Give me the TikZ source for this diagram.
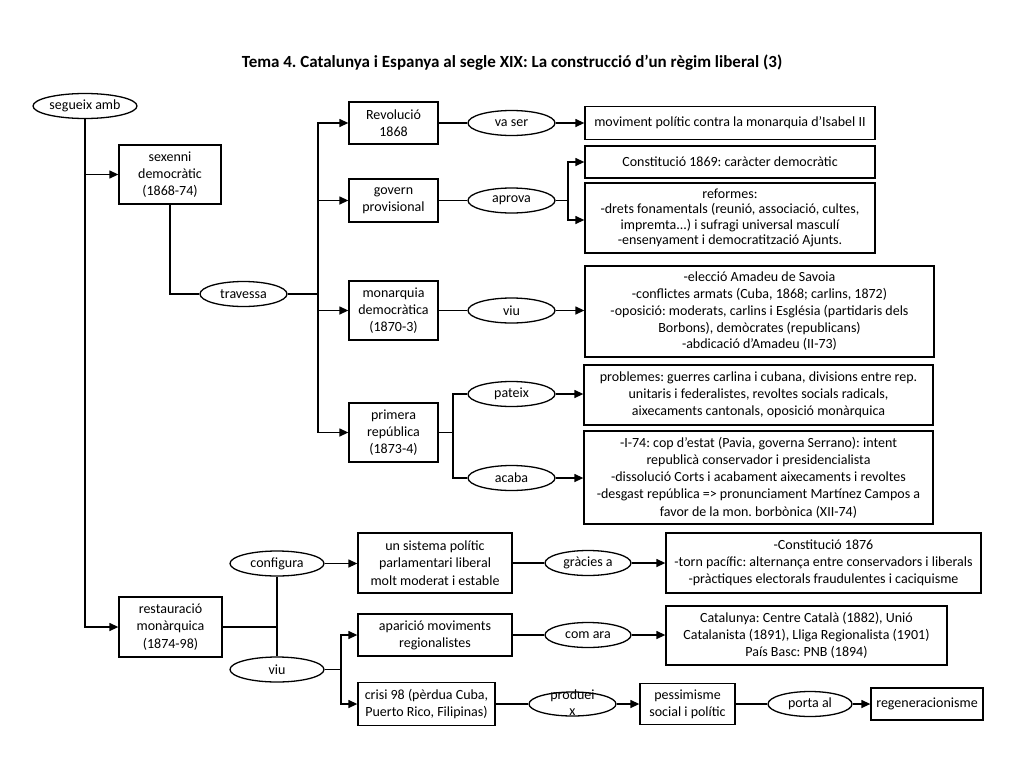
\documentclass[tikz,border=0pt]{standalone}
\usepackage{fontspec}
\setmainfont{Carlito}
\usetikzlibrary{arrows.meta,shapes.geometric}
\begin{document}
\frenchspacing
\begin{tikzpicture}[x=1pt,y=-1pt,
  every node/.style={font=\fontsize{14}{17.2}\selectfont, inner sep=0pt, align=center},
  box/.style={draw, line width=1.3pt, rectangle},
  oval/.style={draw, line width=1.3pt, ellipse, minimum height=25pt, inner sep=0pt},
  conn/.style={line width=1.3pt},
  arr/.style={line width=1.3pt, -{Triangle[length=9pt,width=8pt]}}
]
\useasboundingbox (0,0) rectangle (1024,768);
\node[font=\fontsize{17}{20}\selectfont\bfseries] (title) at (512,63) {Tema 4. Catalunya i Espanya al segle XIX: La construcció d’un règim liberal (3)};

% left column
\node[oval, minimum width=104pt] (segueix) at (85,106) {segueix amb};
\node[box, minimum width=102pt, minimum height=59pt] (sexenni) at (170,174.5) {sexenni\\democràtic\\(1868-74)};
\node[oval, minimum width=87pt] (travessa) at (243.5,294) {travessa};
\node[box, minimum width=103pt, minimum height=60pt] (restauracio) at (170.5,627) {restauració\\monàrquica\\(1874-98)};

% sexenni branch
\node[box, minimum width=89pt, minimum height=42pt] (rev) at (393.5,123) {Revolució\\1868};
\node[box, minimum width=89pt, minimum height=43pt] (govern) at (393.5,200.5) {govern\\provisional};
\node[box, minimum width=89pt, minimum height=59pt] (monarquia) at (393.5,310.5) {monarquia\\democràtica\\(1870-3)};
\node[box, minimum width=89pt, minimum height=59pt] (primera) at (393.5,432.5) {primera\\república\\(1873-4)};

\node[oval, minimum width=87pt] (vaser) at (511.5,123) {va ser};
\node[oval, minimum width=87pt] (aprova) at (511.5,200.5) {aprova};
\node[oval, minimum width=87pt] (viuA) at (511.5,310.5) {viu};
\node[oval, minimum width=87pt] (pateix) at (511.5,394) {pateix};
\node[oval, minimum width=87pt] (acaba) at (511.5,478) {acaba};

\node[box, minimum width=290pt, minimum height=33pt] (moviment) at (730,123) {moviment polític contra la monarquia d’Isabel II};
\node[box, minimum width=290pt, minimum height=32pt] (const69) at (730,162) {Constitució 1869: caràcter democràtic};
\node[box, minimum width=290pt, minimum height=70pt, font=\fontsize{14}{15.5}\selectfont] (reformes) at (730,218) {reformes:\\-drets fonamentals (reunió, associació, cultes,\\impremta...) i sufragi universal masculí\\-ensenyament i democratització Ajunts.};
\node[box, minimum width=349pt, minimum height=91pt, font=\fontsize{14}{16.8}\selectfont] (amadeu) at (759.5,311.5) {-elecció Amadeu de Savoia\\-conflictes armats (Cuba, 1868; carlins, 1872)\\-oposició: moderats, carlins i Església (partidaris dels\\Borbons), demòcrates (republicans)\\-abdicació d’Amadeu (II-73)};
\node[box, minimum width=349pt, minimum height=60pt] (problemes) at (758.5,395) {problemes: guerres carlina i cubana, divisions entre rep.\\unitaris i federalistes, revoltes socials radicals,\\aixecaments cantonals, oposició monàrquica};
\node[box, minimum width=349pt, minimum height=93pt] (i74) at (758.5,477.5) {-I-74: cop d’estat (Pavia, governa Serrano): intent\\republicà conservador i presidencialista\\-dissolució Corts i acabament aixecaments i revoltes\\-desgast república => pronunciament Martínez Campos a\\favor de la mon. borbònica (XII-74)};

% restauracio branch
\node[oval, minimum width=94pt] (configura) at (277,563.5) {configura};
\node[oval, minimum width=94pt] (viuB) at (277,669.5) {viu};
\node[box, minimum width=154pt, minimum height=60pt] (sistema) at (435,563) {un sistema polític\\parlamentari liberal\\molt moderat i estable};
\node[box, minimum width=154pt, minimum height=42pt] (aparicio) at (435,635) {aparició moviments\\regionalistes};
\node[box, minimum width=137pt, minimum height=43pt] (crisi) at (426.5,704) {crisi 98 (pèrdua Cuba,\\Puerto Rico, Filipinas)};
\node[oval, minimum width=86pt] (gracies) at (588,563) {gràcies a};
\node[oval, minimum width=86pt] (comara) at (588,635) {com ara};
\node[oval, minimum width=87pt, minimum height=24pt] (produeix) at (572.5,704) {};
\node[font=\fontsize{14}{16}\selectfont] (produeixtxt) at (572.5,703) {produei\\x};
\node[box, minimum width=315pt, minimum height=60pt] (const76) at (823.5,563) {-Constitució 1876\\-torn pacífic: alternança entre conservadors i liberals\\-pràctiques electorals fraudulentes i caciquisme};
\node[box, minimum width=281pt, minimum height=59pt] (catalunya) at (806.5,635.5) {Catalunya: Centre Català (1882), Unió\\Catalanista (1891), Lliga Regionalista (1901)\\País Basc: PNB (1894)};
\node[box, minimum width=95pt, minimum height=41pt] (pessimisme) at (687.5,704) {pessimisme\\social i polític};
\node[oval, minimum width=84pt] (portaal) at (810,704) {porta al};
\node[box, minimum width=112pt, minimum height=32pt] (regen) at (927,704) {regeneracionisme};

% coordinates
\coordinate (tv) at (318,294);
\coordinate (ap) at (568,200.5);
\coordinate (pr) at (453,432.5);
\coordinate (rj) at (277,627);
\coordinate (vb) at (341,669.5);

% connectors left
\draw[arr] (segueix.south) |- (restauracio.west);
\draw[arr] (segueix.south |- sexenni.west) -- (sexenni.west);
\draw[conn] (sexenni.south) |- (travessa.west);
\draw[conn] (travessa.east) -- (tv);
\draw[arr] (tv) |- (rev.west);
\draw[arr] (tv) |- (govern.west);
\draw[arr] (tv) |- (monarquia.west);
\draw[arr] (tv) |- (primera.west);

\draw[conn] (rev.east) -- (vaser.west);
\draw[arr] (vaser.east) -- (moviment.west);
\draw[conn] (govern.east) -- (aprova.west);
\draw[conn] (aprova.east) -- (ap);
\draw[arr] (ap) |- (const69.west);
\draw[arr] (ap) |- ([yshift=-2pt]reformes.west);
\draw[conn] (monarquia.east) -- (viuA.west);
\draw[arr] (viuA.east) -- (amadeu.west |- viuA.east);
\draw[conn] (primera.east) -- (pr);
\draw[conn] (pr) |- (pateix.west);
\draw[conn] (pr) |- (acaba.west);
\draw[arr] (pateix.east) -- (problemes.west |- pateix.east);
\draw[arr] (acaba.east) -- (i74.west |- acaba.east);

% connectors bottom
\draw[conn] (restauracio.east) -- (rj);
\draw[conn] (configura.south) -- (viuB.north);
\draw[arr] (configura.east) -- (sistema.west |- configura.east);
\draw[conn] (sistema.east) -- (gracies.west);
\draw[arr] (gracies.east) -- (const76.west |- gracies.east);
\draw[conn] (viuB.east) -- (vb);
\draw[arr] (vb) |- (aparicio.west);
\draw[arr] (vb) |- (crisi.west);
\draw[conn] (aparicio.east) -- (comara.west);
\draw[arr] (comara.east) -- (catalunya.west |- comara.east);
\draw[conn] (crisi.east) -- (produeix.west);
\draw[arr] (produeix.east) -- (pessimisme.west);
\draw[conn] (pessimisme.east) -- (portaal.west);
\draw[arr] (portaal.east) -- (regen.west);
\end{tikzpicture}
\end{document}
